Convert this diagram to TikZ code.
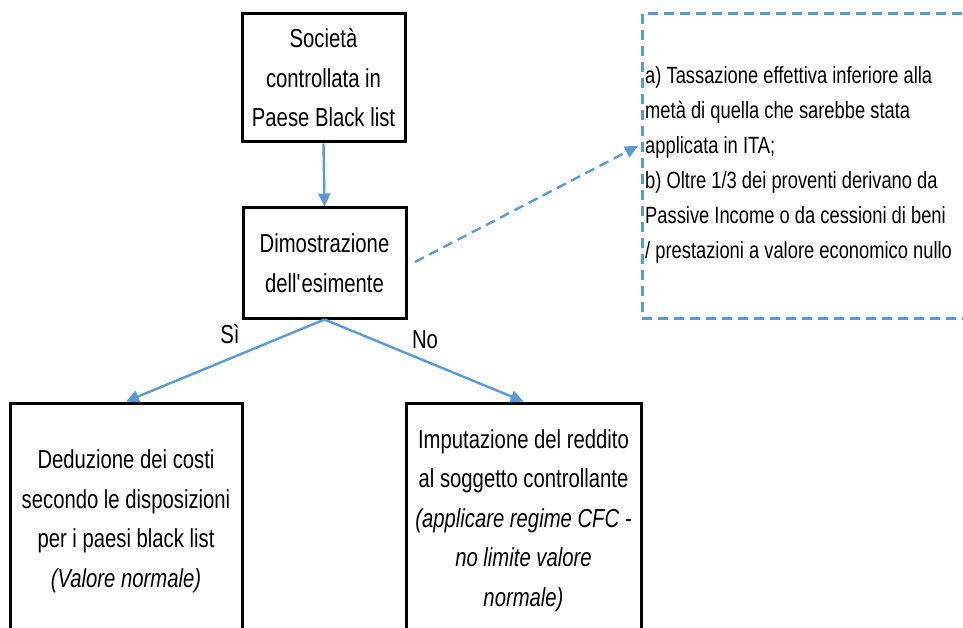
\documentclass[tikz,border=0pt]{standalone}
\usepackage{fontspec}
\setmainfont[FakeStretch=0.78]{Liberation Sans}
\usetikzlibrary{arrows.meta}
\definecolor{arrblue}{HTML}{5B9BD5}
\begin{document}
\begin{tikzpicture}[x=1pt,y=-1pt,
  box/.style={draw=black,line width=3pt,fill=white,align=center,inner sep=0pt,
    font=\fontsize{26}{39.5}\selectfont},
  conn/.style={draw=arrblue,line width=2.4pt,-{Triangle[length=13pt,width=12pt]}},
  lbl/.style={font=\fontsize{26}{30}\selectfont}]
\useasboundingbox (0,0) rectangle (963,628);
\clip (0,0) rectangle (963,628);
\fill[white] (0,0) rectangle (963,628);
\node[box,minimum width=163pt,minimum height=128pt] (top) at (323.5,78) {Società\\controllata in\\Paese Black list};
\node[box,minimum width=163pt,minimum height=110pt] (mid) at (324.5,263) {Dimostrazione\\dell\textquotesingle esimente};
\node[box,minimum width=232pt,minimum height=237pt] (left) at (126,521.5) {Deduzione dei costi\\secondo le disposizioni\\per i paesi black list\\\textit{(Valore normale)}};
\node[box,minimum width=235pt,minimum height=235pt] (right) at (523.5,520.5) {Imputazione del reddito\\al soggetto controllante\\\textit{(applicare regime CFC -}\\\textit{no limite valore}\\\textit{normale)}};
\node[draw=arrblue,line width=3pt,dash pattern=on 10pt off 6pt,minimum width=360pt,minimum height=304pt,inner sep=0pt] (dashbox) at (822,166) {};
\node[anchor=west,align=left,inner sep=0pt,font=\fontsize{23.5}{35}\selectfont] (dtext) at (645,165) {a) Tassazione effettiva inferiore alla\\metà di quella che sarebbe stata\\applicata in ITA;\\b) Oltre 1/3 dei proventi derivano da\\Passive Income o da cessioni di beni\\/ prestazioni a valore economico nullo};
\draw[conn] (top.south) -- (mid.north);
\draw[conn] (mid.south) -- (left.north);
\draw[conn] (mid.south) -- (right.north);
\coordinate (ds) at (415,262);
\coordinate (dt) at (638,146);
\draw[conn,dash pattern=on 10pt off 6pt] (ds) -- (dt);
\node[lbl] (si) at (230,334) {Sì};
\node[lbl] (no) at (425,340) {No};
\end{tikzpicture}
\end{document}
